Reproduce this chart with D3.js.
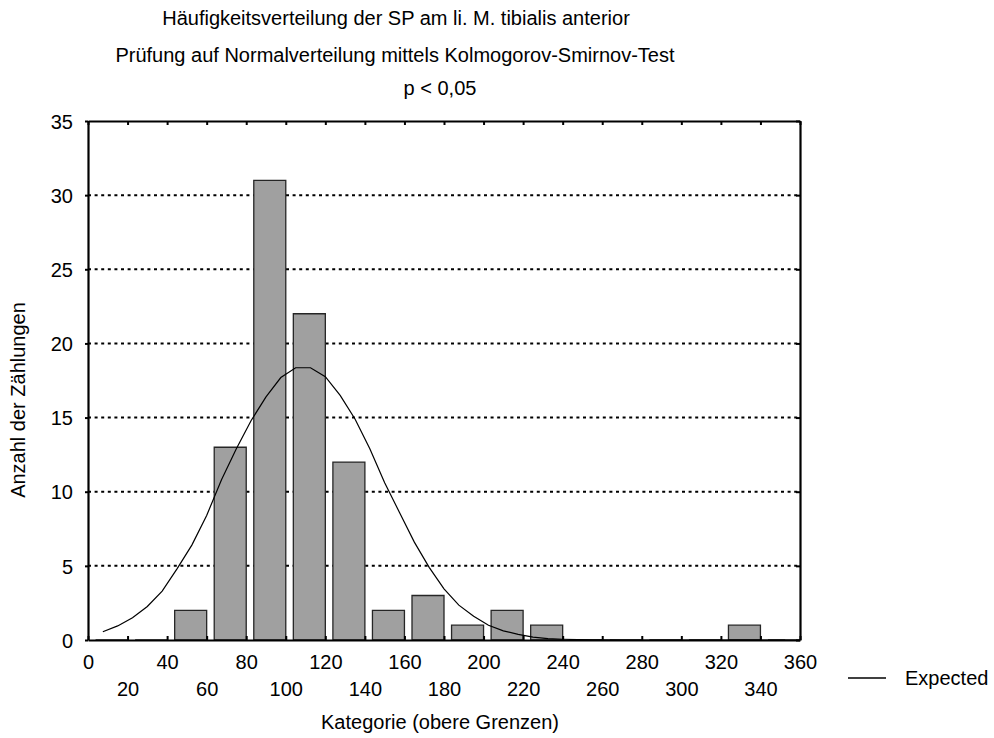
<!DOCTYPE html>
<html>
<head>
<meta charset="utf-8">
<script src="https://cdn.jsdelivr.net/npm/d3@7"></script>
<style>
  body { margin: 0; background: #fff; }
  text { font-family: "Liberation Sans", Arial, Helvetica, sans-serif; fill: #000; }
</style>
</head>
<body>
<svg id="chart" width="994" height="738"></svg>
<script>
// Histogram: upper class limits and counts
const binUpper = [20, 40, 60, 80, 100, 120, 140, 160, 180, 200, 220, 240, 260, 280, 300, 320, 340, 360];
const counts   = [0, 0, 2, 13, 31, 22, 12, 2, 3, 1, 2, 1, 0, 0, 0, 0, 1, 0];

// Expected (normal) curve, sampled every 7.5 units
const expectedX = [7.5, 15, 22.5, 30, 37.5, 45, 52.5, 60, 67.5, 75, 82.5, 90, 97.5, 105, 112.5, 120,
  127.5, 135, 142.5, 150, 157.5, 165, 172.5, 180, 187.5, 195, 202.5, 210, 217.5, 225, 232.5, 240,
  247.5, 255, 262.5, 270, 277.5, 285, 292.5, 300, 307.5, 315, 322.5, 330, 337.5, 345, 352.5];
const expectedY = [0.56, 0.95, 1.5, 2.26, 3.3, 4.8, 6.4, 8.4, 10.8, 12.9, 14.8, 16.4, 17.7, 18.36, 18.36, 17.76,
  16.5, 14.9, 12.9, 10.6, 8.6, 6.6, 4.9, 3.45, 2.35, 1.6, 0.99, 0.62, 0.38, 0.19, 0.09, 0.05,
  0.02, 0.01, 0.005, 0, 0, 0, 0, 0, 0, 0, 0, 0, 0, 0, 0];

const xTicks = [0, 20, 40, 60, 80, 100, 120, 140, 160, 180, 200, 220, 240, 260, 280, 300, 320, 340, 360];
const yTicks = [0, 5, 10, 15, 20, 25, 30, 35];
const gridValues = [5, 10, 15, 20, 25, 30];

const titleLines = [
  "Häufigkeitsverteilung der SP am li. M. tibialis anterior",
  "Prüfung auf Normalverteilung mittels Kolmogorov-Smirnov-Test",
  "p < 0,05"
];
const xTitle = "Kategorie (obere Grenzen)";
const yTitle = "Anzahl der Zählungen";
const legendLabel = "Expected";

const svg = d3.select("#chart");
const plotL = 88, plotR = 800, plotT = 121, plotB = 640;
const x = d3.scaleLinear().domain([0, 360]).range([plotL, plotR]);
const y = d3.scaleLinear().domain([0, 35]).range([plotB, plotT]);
const barPx = 32;
const fontSize = 20;

// Titles (each line with its own centre and baseline)
const titleLayout = [
  { cx: 396, by: 25 },
  { cx: 395, by: 62 },
  { cx: 440, by: 95 }
];
svg.append("g").selectAll("text").data(titleLines).join("text")
  .attr("x", (d, i) => titleLayout[i].cx)
  .attr("y", (d, i) => titleLayout[i].by)
  .attr("text-anchor", "middle")
  .attr("font-size", fontSize)
  .text(d => d);

// Dotted grid lines
svg.append("g").selectAll("line").data(gridValues).join("line")
  .attr("x1", plotL).attr("x2", plotR)
  .attr("y1", d => y(d)).attr("y2", d => y(d))
  .attr("stroke", "#000").attr("stroke-width", 2)
  .attr("stroke-dasharray", "3,3.6");

// Bars (zero-count classes show as a flat outline on the baseline)
svg.append("g").selectAll("path").data(binUpper).join("path")
  .attr("d", (u, i) => {
    const x1 = x(u), x0 = x1 - barPx, y0 = y(0), y1 = y(counts[i]);
    return `M${x0},${y0}V${y1}H${x1}V${y0}Z`;
  })
  .attr("fill", "#a0a0a0")
  .attr("stroke", "#262626")
  .attr("stroke-width", 1.3);

// Expected curve
const curve = d3.line().x(d => x(d[0])).y(d => y(d[1]));
svg.append("path")
  .datum(expectedX.map((v, i) => [v, expectedY[i]]))
  .attr("d", curve)
  .attr("fill", "none")
  .attr("stroke", "#000")
  .attr("stroke-width", 1.2);

// Axes
const gLeft = svg.append("g").attr("transform", `translate(${plotL},0)`)
  .call(d3.axisLeft(y).tickValues(yTicks).tickSizeInner(3).tickSizeOuter(0).tickPadding(12).tickFormat(d3.format("d")));
const gRight = svg.append("g").attr("transform", `translate(${plotR},0)`)
  .call(d3.axisRight(y).tickValues(yTicks).tickSizeInner(-4).tickSizeOuter(0).tickFormat(""));
const gTop = svg.append("g").attr("transform", `translate(0,${plotT})`)
  .call(d3.axisTop(x).tickValues(xTicks).tickSizeInner(-4).tickSizeOuter(0).tickFormat(""));
const gBottom = svg.append("g").attr("transform", `translate(0,${plotB})`)
  .call(d3.axisBottom(x).tickValues(xTicks).tickSizeInner(-4).tickSizeOuter(0).tickFormat(d3.format("d")));

[gLeft, gRight, gTop, gBottom].forEach(g => {
  g.select(".domain").attr("stroke", "#000").attr("stroke-width", 2.2);
  g.selectAll(".tick line").attr("stroke", "#000").attr("stroke-width", 2);
  g.selectAll(".tick text").attr("font-size", fontSize).attr("font-family", null).attr("fill", "#000");
});
// Stagger bottom labels in two rows
gBottom.selectAll(".tick text")
  .attr("y", d => (d / 20) % 2 === 0 ? 15 : 42)
  .attr("dy", "0.71em");
gLeft.selectAll(".tick text").attr("dy", "0.36em");

// Axis titles
svg.append("text")
  .attr("x", 440).attr("y", 729)
  .attr("text-anchor", "middle").attr("font-size", fontSize)
  .text(xTitle);
svg.append("text")
  .attr("transform", "translate(25,400) rotate(-90)")
  .attr("text-anchor", "middle").attr("font-size", fontSize)
  .text(yTitle);

// Legend
svg.append("line")
  .attr("x1", 848).attr("x2", 886).attr("y1", 678).attr("y2", 678)
  .attr("stroke", "#000").attr("stroke-width", 1.5);
svg.append("text")
  .attr("x", 905).attr("y", 685).attr("font-size", fontSize)
  .text(legendLabel);
</script>
</body>
</html>
